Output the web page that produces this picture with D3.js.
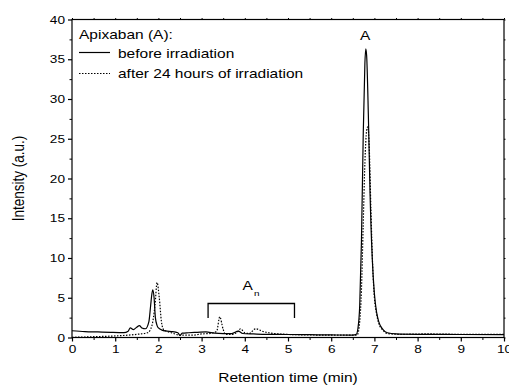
<!DOCTYPE html>
<html><head><meta charset="utf-8">
<script src="https://cdn.jsdelivr.net/npm/d3@7"></script>
<style>body{margin:0;background:#fff}svg{display:block;font-family:"Liberation Sans",Arial,sans-serif}</style>
</head><body><svg id="c" width="509" height="387"></svg>
<script>
const xTicks = [0,1,2,3,4,5,6,7,8,9,10];
const yTicks = [0,5,10,15,20,25,30,35,40];
const beforeTime = [0,0.3,0.6,0.9,1.2,1.3,1.35,1.42,1.5,1.56,1.62,1.7,1.78,1.82,1.85,1.87,1.9,1.93,1.97,2.0,2.1,2.2,2.3,2.45,2.5,2.55,2.7,2.9,3.1,3.3,3.5,3.7,3.85,3.95,4.2,4.5,5.0,5.5,6.0,6.5,6.58,6.62,6.66,6.7,6.74,6.78,6.8,6.82,6.86,6.9,6.95,7.0,7.05,7.1,7.2,7.3,7.5,8.0,9.0,10.0];
const beforeValue = [0.85,0.75,0.7,0.65,0.62,0.8,1.2,1.0,1.3,1.5,1.2,1.1,2.0,4.0,5.5,6.0,5.0,2.5,1.5,1.2,0.9,0.8,0.75,0.6,0.25,0.55,0.6,0.65,0.7,0.55,0.5,0.5,0.8,0.5,0.45,0.4,0.38,0.35,0.32,0.3,0.4,1.2,4,12,25,34.5,36.3,35.5,28,18,10,5.5,3.2,2.0,1.0,0.6,0.45,0.4,0.38,0.35];
const afterTime = [0,0.5,1.0,1.5,1.75,1.85,1.92,1.97,2.02,2.07,2.12,2.3,2.5,2.8,3.0,3.2,3.35,3.42,3.5,3.55,3.7,3.85,3.9,4.0,4.1,4.25,4.4,4.55,4.8,5.2,6.0,6.6,6.66,6.7,6.74,6.78,6.82,6.85,6.88,6.92,6.96,7.0,7.05,7.1,7.2,7.3,7.6,8.2,9.0,10.0];
const afterValue = [0.02,0.1,0.2,0.4,0.6,1.5,4,6.9,5,2,1.0,0.6,0.3,0.3,0.45,0.5,0.8,2.6,1.0,0.4,0.4,0.8,1.1,0.6,0.5,1.1,0.8,0.6,0.45,0.35,0.3,0.3,2,6,14,22,26,26.5,24,16,9,5,3,1.8,0.9,0.5,0.4,0.45,0.4,0.4];
const legendTitle = "Apixaban (A):";
const seriesNames = ["before irradiation","after 24 hours of irradiation"];

const svg = d3.select("#c");
const L=72, R=504, T=19.5, B=337.5;
const SX = 1.24;
const x = d3.scaleLinear().domain([0,10]).range([L,R]);
const y = d3.scaleLinear().domain([0,40]).range([B,T]);

function label(px, py, txt, size, anchor){
  return svg.append("text").attr("transform",`translate(${px},${py}) scale(${SX},1)`)
    .attr("font-size",size+"px").attr("text-anchor",anchor||"start").text(txt);
}

// frame
svg.append("rect").attr("x",L).attr("y",T).attr("width",R-L).attr("height",B-T)
  .attr("fill","none").attr("stroke","#000").attr("stroke-width",1.2);

// bottom axis
const gx = svg.append("g").attr("transform",`translate(0,${B})`)
  .call(d3.axisBottom(x).tickValues(xTicks).tickSize(4).tickFormat(d3.format("d")));
gx.select(".domain").remove();
gx.selectAll("text").attr("font-size","11px").attr("font-family","Liberation Sans, Arial")
  .attr("dy",null).attr("y",16).attr("transform",`scale(${SX},1)`);
gx.selectAll("line").attr("stroke-width",1.2);
svg.append("g").attr("transform",`translate(0,${B})`)
  .call(d3.axisBottom(x).tickValues(d3.range(0.5,10,1)).tickSize(2.5).tickFormat(""))
  .call(g=>g.select(".domain").remove());
// top ticks
svg.append("g").attr("transform",`translate(0,${T})`)
  .call(d3.axisTop(x).tickValues(d3.range(0,10.01,0.5)).tickSize(1.5).tickFormat(""))
  .call(g=>g.select(".domain").remove());

// left axis
const gy = svg.append("g").attr("transform",`translate(${L},0)`)
  .call(d3.axisLeft(y).tickValues(yTicks).tickSize(4));
gy.select(".domain").remove();
gy.selectAll("text").attr("font-size","11px").attr("font-family","Liberation Sans, Arial")
  .attr("x",-7/SX).attr("transform",`scale(${SX},1)`);
gy.selectAll("line").attr("stroke-width",1.2);
svg.append("g").attr("transform",`translate(${L},0)`)
  .call(d3.axisLeft(y).tickValues(d3.range(2.5,40,5)).tickSize(2.5).tickFormat(""))
  .call(g=>g.select(".domain").remove());
// right ticks
svg.append("g").attr("transform",`translate(${R},0)`)
  .call(d3.axisRight(y).tickValues(d3.range(0,40.01,2.5)).tickSize(1.5).tickFormat(""))
  .call(g=>g.select(".domain").remove());

// axis titles
label((L+R)/2, 382, "Retention time (min)", 12.5, "middle");
svg.append("text").attr("transform",`translate(23.5,${(T+B)/2}) rotate(-90) scale(1,${SX})`).attr("text-anchor","middle")
  .attr("font-size","13.5px").text("Intensity (a.u.)");

// lines
const line = d3.line().x(d=>x(d[0])).y(d=>y(d[1])).curve(d3.curveMonotoneX);
const before = beforeTime.map((t,i)=>[t,beforeValue[i]]);
const after = afterTime.map((t,i)=>[t,afterValue[i]]);
svg.append("path").datum(after).attr("d",line).attr("fill","none").attr("stroke","#000")
  .attr("stroke-width",1.2).attr("stroke-dasharray","1.5,1.5");
svg.append("path").datum(before).attr("d",line).attr("fill","none").attr("stroke","#000")
  .attr("stroke-width",1.2);

// legend
label(79, 39, legendTitle, 12.5);
svg.append("line").attr("x1",79).attr("x2",110).attr("y1",52.5).attr("y2",52.5).attr("stroke","#000").attr("stroke-width",1.2);
label(118, 57.5, seriesNames[0], 12.5);
svg.append("line").attr("x1",79).attr("x2",110).attr("y1",73.5).attr("y2",73.5).attr("stroke","#000").attr("stroke-width",1.2).attr("stroke-dasharray","1.5,1.5");
label(118, 78, seriesNames[1], 12.5);

// annotations
label(x(6.8)-0.5, 39.5, "A", 12.5, "middle");
const an = svg.append("text").attr("transform",`translate(242.5,289.5) scale(${SX},1)`).attr("font-size","12.5px");
an.append("tspan").text("A");
an.append("tspan").attr("font-size","8px").attr("dy",6).attr("dx",1).text("n");
svg.append("path").attr("d",`M${x(3.15)},${318}V${303.5}H${x(5.15)}V${318}`)
  .attr("fill","none").attr("stroke","#000").attr("stroke-width",1.3);
</script></body></html>
